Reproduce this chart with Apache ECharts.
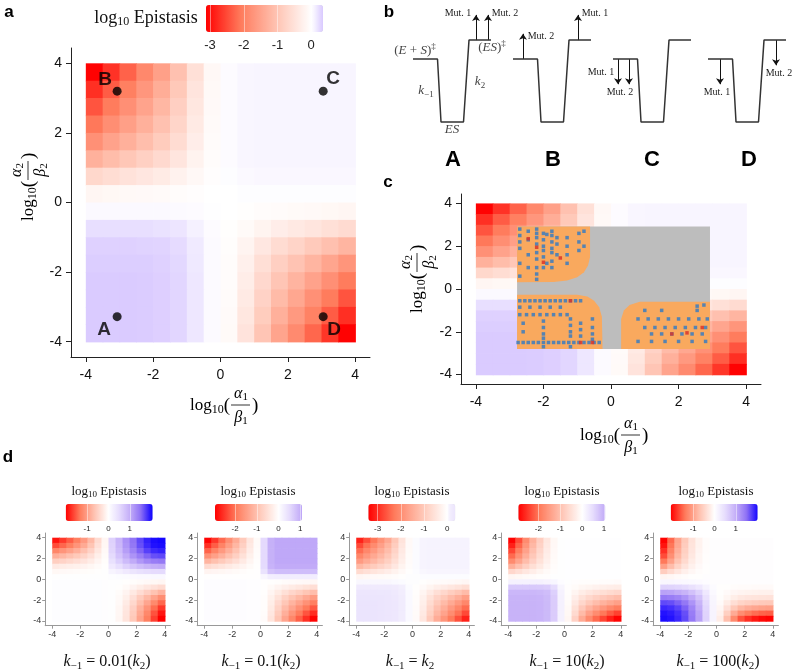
<!DOCTYPE html>
<html>
<head>
<meta charset="utf-8">
<script src="https://cdn.jsdelivr.net/npm/echarts@6/dist/echarts.min.js"></script>
<style>
  html, body { margin: 0; padding: 0; background: #fff; }
  #chart { width: 793px; height: 672px; }
</style>
</head>
<body>
<div id="chart"></div>
<script>
// cell centres of the epistasis grids, rows go from top (y = 3.75) to bottom
const xCenters = [-3.75, -3.25, -2.75, -2.25, -1.75, -1.25, -0.75, -0.25, 0.25, 0.75, 1.25, 1.75, 2.25, 2.75, 3.25, 3.75];
const yCenters = [3.75, 3.25, 2.75, 2.25, 1.75, 1.25, 0.75, 0.25, -0.25, -0.75, -1.25, -1.75, -2.25, -2.75, -3.25, -3.75];
const axisTicks = [-4, -2, 0, 2, 4];

// log10 epistasis, panel a (also background of c)
const epiMain = [
  [-3.1, -2.7, -2.3, -1.9, -1.55, -1.05, -0.53, -0.12, 0.03, 0.07, 0.08, 0.08, 0.08, 0.08, 0.08, 0.08],
  [-2.73, -2.35, -2.02, -1.69, -1.36, -0.93, -0.46, -0.11, 0.03, 0.07, 0.08, 0.08, 0.08, 0.08, 0.08, 0.08],
  [-2.42, -2.08, -1.79, -1.5, -1.21, -0.82, -0.41, -0.1, 0.03, 0.07, 0.08, 0.08, 0.08, 0.08, 0.08, 0.08],
  [-2.11, -1.81, -1.56, -1.31, -1.05, -0.72, -0.36, -0.08, 0.03, 0.07, 0.08, 0.08, 0.08, 0.08, 0.08, 0.08],
  [-1.77, -1.52, -1.31, -1.1, -0.88, -0.6, -0.3, -0.07, 0.03, 0.07, 0.08, 0.08, 0.08, 0.08, 0.08, 0.08],
  [-1.3, -1.12, -0.96, -0.81, -0.65, -0.44, -0.22, -0.05, 0.03, 0.07, 0.08, 0.08, 0.08, 0.08, 0.08, 0.08],
  [-0.68, -0.59, -0.5, -0.42, -0.34, -0.23, -0.12, -0.03, 0.02, 0.05, 0.06, 0.06, 0.06, 0.06, 0.06, 0.06],
  [-0.16, -0.13, -0.11, -0.1, -0.08, -0.05, -0.03, 0, 0, 0.02, 0.02, 0.02, 0.02, 0.02, 0.02, 0.02],
  [0.05, 0.05, 0.05, 0.05, 0.05, 0.04, 0.03, 0.01, 0, -0.02, -0.05, -0.07, -0.09, -0.11, -0.13, -0.16],
  [0.22, 0.22, 0.22, 0.22, 0.2, 0.18, 0.11, 0.03, -0.02, -0.09, -0.2, -0.3, -0.37, -0.45, -0.53, -0.62],
  [0.3, 0.3, 0.3, 0.29, 0.28, 0.24, 0.15, 0.04, -0.04, -0.19, -0.4, -0.6, -0.74, -0.91, -1.07, -1.24],
  [0.32, 0.32, 0.32, 0.32, 0.3, 0.26, 0.16, 0.04, -0.05, -0.26, -0.55, -0.82, -1.02, -1.24, -1.47, -1.71],
  [0.34, 0.34, 0.34, 0.33, 0.31, 0.27, 0.17, 0.04, -0.06, -0.31, -0.66, -1, -1.25, -1.52, -1.79, -2.08],
  [0.34, 0.34, 0.34, 0.33, 0.31, 0.27, 0.17, 0.04, -0.07, -0.36, -0.77, -1.16, -1.45, -1.77, -2.08, -2.42],
  [0.34, 0.34, 0.34, 0.33, 0.31, 0.27, 0.17, 0.04, -0.08, -0.41, -0.87, -1.31, -1.64, -1.99, -2.35, -2.73],
  [0.34, 0.34, 0.34, 0.33, 0.31, 0.27, 0.17, 0.04, -0.09, -0.47, -0.99, -1.49, -1.86, -2.26, -2.67, -3.1]
];

// k-1 = 0.01(k2)
const epiD1 = [
  [-1.9, -1.7, -1.5, -1.3, -1.05, -0.75, -0.4, -0.1, 0.62, 0.92, 1.23, 1.48, 1.7, 1.89, 2, 2.05],
  [-1.6, -1.45, -1.3, -1.1, -0.9, -0.64, -0.34, -0.09, 0.6, 0.9, 1.2, 1.45, 1.67, 1.85, 1.97, 2],
  [-1.24, -1.1, -0.98, -0.85, -0.68, -0.49, -0.26, -0.07, 0.57, 0.85, 1.13, 1.36, 1.57, 1.74, 1.85, 1.89],
  [-0.86, -0.77, -0.68, -0.59, -0.47, -0.34, -0.18, -0.05, 0.51, 0.77, 1.02, 1.22, 1.41, 1.56, 1.67, 1.7],
  [-0.53, -0.48, -0.42, -0.36, -0.29, -0.21, -0.11, -0.03, 0.43, 0.65, 0.86, 1.03, 1.19, 1.32, 1.41, 1.44],
  [-0.23, -0.2, -0.18, -0.16, -0.13, -0.09, -0.05, -0.01, 0.31, 0.46, 0.62, 0.74, 0.85, 0.94, 1, 1.03],
  [-0.08, -0.07, -0.06, -0.05, -0.04, -0.03, -0.02, 0, 0.15, 0.23, 0.31, 0.37, 0.43, 0.47, 0.5, 0.51],
  [0, 0, 0, 0, 0, 0, 0, 0, 0.03, 0.05, 0.06, 0.07, 0.09, 0.09, 0.1, 0.1],
  [0.03, 0.03, 0.03, 0.03, 0.03, 0.03, 0.03, 0.02, 0, 0, -0.02, -0.03, -0.05, -0.07, -0.08, -0.1],
  [0.03, 0.03, 0.03, 0.03, 0.03, 0.03, 0.03, 0.02, 0, -0.02, -0.06, -0.12, -0.19, -0.26, -0.33, -0.4],
  [0.03, 0.03, 0.03, 0.03, 0.03, 0.03, 0.03, 0.02, 0, -0.04, -0.12, -0.24, -0.38, -0.52, -0.66, -0.8],
  [0.03, 0.03, 0.03, 0.03, 0.03, 0.03, 0.03, 0.02, 0, -0.06, -0.17, -0.35, -0.56, -0.75, -0.96, -1.16],
  [0.03, 0.03, 0.03, 0.03, 0.03, 0.03, 0.03, 0.02, 0, -0.07, -0.22, -0.43, -0.69, -0.94, -1.2, -1.44],
  [0.03, 0.03, 0.03, 0.03, 0.03, 0.03, 0.03, 0.02, 0, -0.09, -0.26, -0.51, -0.82, -1.1, -1.41, -1.7],
  [0.03, 0.03, 0.03, 0.03, 0.03, 0.03, 0.03, 0.02, 0, -0.09, -0.28, -0.56, -0.9, -1.22, -1.56, -1.88],
  [0.03, 0.03, 0.03, 0.03, 0.03, 0.03, 0.03, 0.02, 0, -0.1, -0.3, -0.6, -0.96, -1.3, -1.66, -2]
];

// k-1 = 0.1(k2)
const epiD2 = [
  [-2.9, -2.5, -2.1, -1.7, -1.3, -0.85, -0.4, -0.08, 0.52, 0.97, 1.05, 1.05, 1.05, 1.05, 1.05, 1.05],
  [-2.55, -2.2, -1.85, -1.5, -1.14, -0.75, -0.35, -0.07, 0.52, 0.97, 1.05, 1.05, 1.05, 1.05, 1.05, 1.05],
  [-2.15, -1.85, -1.55, -1.26, -0.96, -0.63, -0.3, -0.06, 0.52, 0.97, 1.05, 1.05, 1.05, 1.05, 1.05, 1.05],
  [-1.68, -1.45, -1.22, -0.99, -0.75, -0.49, -0.23, -0.05, 0.52, 0.97, 1.05, 1.05, 1.05, 1.05, 1.05, 1.05],
  [-1.16, -1, -0.84, -0.68, -0.52, -0.34, -0.16, -0.03, 0.52, 0.97, 1.05, 1.05, 1.05, 1.05, 1.05, 1.05],
  [-0.58, -0.5, -0.42, -0.34, -0.26, -0.17, -0.08, -0.02, 0.51, 0.94, 1.02, 1.02, 1.02, 1.02, 1.02, 1.02],
  [-0.17, -0.15, -0.13, -0.1, -0.08, -0.05, -0.02, 0, 0.42, 0.77, 0.84, 0.84, 0.84, 0.84, 0.84, 0.84],
  [0, 0, 0, 0, 0, 0, 0, 0, 0.13, 0.24, 0.26, 0.26, 0.26, 0.26, 0.26, 0.26],
  [0.04, 0.04, 0.04, 0.04, 0.04, 0.04, 0.03, 0.02, 0, -0.02, -0.04, -0.06, -0.07, -0.09, -0.1, -0.12],
  [0.04, 0.04, 0.04, 0.04, 0.04, 0.04, 0.03, 0.02, -0.01, -0.08, -0.17, -0.25, -0.32, -0.39, -0.46, -0.52],
  [0.04, 0.04, 0.04, 0.04, 0.04, 0.04, 0.03, 0.02, -0.02, -0.16, -0.33, -0.5, -0.65, -0.78, -0.92, -1.04],
  [0.04, 0.04, 0.04, 0.04, 0.04, 0.04, 0.03, 0.02, -0.03, -0.23, -0.48, -0.72, -0.94, -1.13, -1.33, -1.51],
  [0.04, 0.04, 0.04, 0.04, 0.04, 0.04, 0.03, 0.02, -0.04, -0.28, -0.6, -0.9, -1.17, -1.41, -1.66, -1.89],
  [0.04, 0.04, 0.04, 0.04, 0.04, 0.04, 0.03, 0.02, -0.04, -0.33, -0.71, -1.07, -1.38, -1.67, -1.96, -2.23],
  [0.04, 0.04, 0.04, 0.04, 0.04, 0.04, 0.03, 0.02, -0.05, -0.39, -0.83, -1.24, -1.6, -1.94, -2.27, -2.58],
  [0.04, 0.04, 0.04, 0.04, 0.04, 0.04, 0.03, 0.02, -0.06, -0.44, -0.93, -1.39, -1.8, -2.18, -2.55, -2.9]
];

// k-1 = 10(k2)
const epiD4 = [
  [-2.9, -2.32, -1.74, -1.22, -0.78, -0.38, -0.12, 0, 0.02, 0.02, 0.02, 0.02, 0.02, 0.02, 0.02, 0.02],
  [-2.67, -2.13, -1.6, -1.12, -0.72, -0.35, -0.11, 0, 0.02, 0.02, 0.02, 0.02, 0.02, 0.02, 0.02, 0.02],
  [-2.38, -1.9, -1.43, -1, -0.64, -0.31, -0.1, 0, 0.02, 0.02, 0.02, 0.02, 0.02, 0.02, 0.02, 0.02],
  [-2.09, -1.67, -1.25, -0.88, -0.56, -0.27, -0.09, 0, 0.02, 0.02, 0.02, 0.02, 0.02, 0.02, 0.02, 0.02],
  [-1.74, -1.39, -1.04, -0.73, -0.47, -0.23, -0.07, 0, 0.02, 0.02, 0.02, 0.02, 0.02, 0.02, 0.02, 0.02],
  [-1.25, -1, -0.75, -0.52, -0.34, -0.16, -0.05, 0, 0.02, 0.02, 0.02, 0.02, 0.02, 0.02, 0.02, 0.02],
  [-0.64, -0.51, -0.38, -0.27, -0.17, -0.08, -0.03, 0, 0.02, 0.02, 0.02, 0.02, 0.02, 0.02, 0.02, 0.02],
  [-0.15, -0.12, -0.09, -0.06, -0.04, -0.02, 0, 0, 0.01, 0.01, 0.01, 0.01, 0.01, 0.01, 0.01, 0.01],
  [0.19, 0.19, 0.19, 0.19, 0.19, 0.17, 0.13, 0.04, 0, -0.01, -0.03, -0.03, -0.04, -0.05, -0.05, -0.06],
  [0.71, 0.71, 0.71, 0.71, 0.7, 0.66, 0.5, 0.14, -0.01, -0.07, -0.13, -0.17, -0.21, -0.24, -0.27, -0.29],
  [0.9, 0.9, 0.9, 0.9, 0.88, 0.83, 0.63, 0.18, -0.03, -0.16, -0.29, -0.38, -0.46, -0.52, -0.59, -0.64],
  [0.95, 0.95, 0.95, 0.95, 0.93, 0.87, 0.67, 0.19, -0.05, -0.26, -0.47, -0.63, -0.75, -0.86, -0.96, -1.04],
  [0.95, 0.95, 0.95, 0.95, 0.93, 0.87, 0.67, 0.19, -0.07, -0.36, -0.65, -0.87, -1.04, -1.19, -1.33, -1.45],
  [0.95, 0.95, 0.95, 0.95, 0.93, 0.87, 0.67, 0.19, -0.1, -0.48, -0.86, -1.15, -1.38, -1.57, -1.76, -1.91],
  [0.95, 0.95, 0.95, 0.95, 0.93, 0.87, 0.67, 0.19, -0.12, -0.6, -1.08, -1.44, -1.73, -1.97, -2.21, -2.41],
  [0.95, 0.95, 0.95, 0.95, 0.93, 0.87, 0.67, 0.19, -0.15, -0.73, -1.31, -1.74, -2.09, -2.38, -2.67, -2.9]
];

// k-1 = 100(k2)
const epiD5 = [
  [-2.05, -1.48, -0.98, -0.62, -0.33, -0.14, -0.04, 0, 0.01, 0.01, 0.01, 0.01, 0.01, 0.01, 0.01, 0.01],
  [-1.95, -1.4, -0.94, -0.58, -0.31, -0.14, -0.04, 0, 0.01, 0.01, 0.01, 0.01, 0.01, 0.01, 0.01, 0.01],
  [-1.8, -1.3, -0.87, -0.54, -0.29, -0.13, -0.04, 0, 0.01, 0.01, 0.01, 0.01, 0.01, 0.01, 0.01, 0.01],
  [-1.64, -1.18, -0.79, -0.49, -0.26, -0.11, -0.03, 0, 0.01, 0.01, 0.01, 0.01, 0.01, 0.01, 0.01, 0.01],
  [-1.39, -1, -0.67, -0.42, -0.22, -0.1, -0.03, 0, 0.01, 0.01, 0.01, 0.01, 0.01, 0.01, 0.01, 0.01],
  [-1.03, -0.74, -0.49, -0.31, -0.16, -0.07, -0.02, 0, 0.01, 0.01, 0.01, 0.01, 0.01, 0.01, 0.01, 0.01],
  [-0.57, -0.41, -0.28, -0.17, -0.09, -0.04, -0.01, 0, 0.01, 0.01, 0.01, 0.01, 0.01, 0.01, 0.01, 0.01],
  [-0.12, -0.09, -0.06, -0.04, -0.02, -0.01, 0, 0, 0, 0, 0, 0, 0, 0, 0, 0],
  [0.12, 0.12, 0.11, 0.1, 0.09, 0.07, 0.04, 0.01, 0, 0, 0, 0, 0, 0, 0, 0],
  [0.6, 0.59, 0.56, 0.51, 0.43, 0.33, 0.18, 0.05, -0.01, -0.02, -0.04, -0.05, -0.05, -0.06, -0.06, -0.06],
  [1.1, 1.08, 1.02, 0.94, 0.79, 0.61, 0.33, 0.09, -0.02, -0.06, -0.1, -0.13, -0.14, -0.15, -0.16, -0.16],
  [1.44, 1.41, 1.34, 1.22, 1.04, 0.79, 0.43, 0.12, -0.03, -0.11, -0.2, -0.26, -0.29, -0.31, -0.32, -0.33],
  [1.7, 1.67, 1.58, 1.45, 1.22, 0.94, 0.51, 0.14, -0.06, -0.22, -0.37, -0.48, -0.54, -0.58, -0.6, -0.62],
  [1.86, 1.82, 1.73, 1.58, 1.34, 1.02, 0.56, 0.15, -0.1, -0.36, -0.62, -0.8, -0.9, -0.96, -1, -1.03],
  [1.96, 1.92, 1.82, 1.67, 1.41, 1.08, 0.59, 0.16, -0.15, -0.54, -0.92, -1.2, -1.35, -1.45, -1.51, -1.54],
  [2, 1.96, 1.86, 1.7, 1.44, 1.1, 0.6, 0.16, -0.21, -0.72, -1.23, -1.6, -1.8, -1.93, -2.01, -2.05]
];

// colour bar ranges and their tick labels
const mainRange = [-3.12, 0.35];
const mainBarTicks = [-3, -2, -1, 0];
const dRanges = [[-2.0, 2.07], [-2.93, 1.08], [-3.4, 0.35], [-2.92, 1.06], [-2.06, 2.03]];
const dBarTicks = [[-1, 0, 1], [-2, -1, 0, 1], [-3, -2, -1, 0], [-2, -1, 0, 1], [-1, 0, 1]];

// the four marked points of panel a
const pointNames = ['B', 'C', 'A', 'D'];
const pointX = [-3.07, 3.05, -3.07, 3.05];
const pointY = [3.2, 3.2, -3.28, -3.28];

// panel c overlay
const greyBox = [[-2.78, -2.8], [2.93, 2.92]];
const orangeShapes = [
  [[-2.78, 2.92], [-0.62, 2.92], [-0.62, 1.5], [-0.68, 1.1], [-0.8, 0.78], [-1.0, 0.55], [-1.3, 0.4], [-1.7, 0.33], [-2.78, 0.32]],
  [[-2.78, -0.27], [-1.0, -0.27], [-0.7, -0.35], [-0.5, -0.55], [-0.35, -0.85], [-0.27, -1.3], [-0.25, -2.8], [-2.78, -2.8]],
  [[0.3, -2.8], [0.3, -1.4], [0.38, -1.0], [0.55, -0.75], [0.85, -0.6], [2.93, -0.6], [2.93, -2.8]]
];
const blueCols = [
  [-2.7, [2.8, 2.5, 2.2, 1.9, 1.2, 0.6]],
  [-2.45, [2.7, 2.3, 1.6, 1.0]],
  [-2.2, [2.8, 2.6, 2.4, 2.1, 1.7, 1.4, 1.0, 0.7, 0.45]],
  [-2.0, [2.6, 2.3, 2.0, 1.8, 1.5, 1.0]],
  [-1.9, [2.55, 1.2]],
  [-1.75, [2.7, 2.5, 2.2, 1.9, 1.7, 1.3, 1.0]],
  [-1.6, [2.4, 2.1, 1.6]],
  [-1.3, [2.4, 2.0, 1.6, 1.2]],
  [-0.95, [2.6, 2.2, 1.8]],
  [-0.8, [2.7, 2.0]],
  [-2.6, [-1.6, -2.0]],
  [-2.0, [-1.5, -1.8, -2.1, -2.3, -2.7]],
  [-1.2, [-1.4, -1.7, -2.0, -2.2, -2.7]],
  [-0.9, [-1.6, -1.9, -2.2]],
  [-0.55, [-1.4, -1.8, -2.1, -2.35]],
  [2.55, [-0.8, -1.0]],
  [2.75, [-0.75]]
];
const blueRows = [
  [-0.55, [-2.7, -2.55, -2.4, -2.25, -2.1, -1.95, -1.8, -1.65, -1.5, -1.35, -1.2, -1.05, -0.9]],
  [-0.85, [-2.7, -2.4, -2.1, -1.8, -1.5]],
  [-1.2, [-2.7, -2.5, -2.3, -2.1, -1.9, -1.7, -1.5, -1.3]],
  [-2.5, [-2.75, -2.6, -2.45, -2.3, -2.15, -2.0, -1.85, -1.7, -1.55, -1.4, -1.25, -1.1, -0.95, -0.8, -0.65, -0.5, -0.35]],
  [-1.0, [1.0, 1.5]],
  [-1.4, [0.8, 1.1, 1.4, 1.7, 2.0, 2.3, 2.6, 2.85]],
  [-1.8, [1.0, 1.3, 1.6, 1.9, 2.2, 2.5, 2.8]],
  [-2.1, [1.2, 1.5, 1.8, 2.1, 2.4, 2.7]],
  [-2.45, [0.8, 1.2, 1.6, 2.0, 2.4, 2.8]]
];
const redPoints = [[-2.2, 1.95], [-2.0, 1.25], [-1.5, 1.45], [-2.45, 2.35], [-0.9, -2.5], [-0.55, -2.5], [-1.2, -0.55], [1.8, -2.1], [2.25, -2.05], [2.7, -1.8]];

// panel b energy diagrams
const profileX = [0, 2.45, 2.8, 5.05, 5.6, 7.8];
const profileE = [3.0, 3.0, 0, 0, 3.9, 3.9];
const diagramStart = [2.0, 12.0, 22.0, 31.5];
const arrowX = [8.3, 9.5, 13.0, 18.5, 22.5, 23.6, 32.7, 38.3];
const arrowFrom = [3.9, 3.9, 3.0, 3.9, 3.0, 3.0, 3.0, 3.9];
const arrowTo = [5.1, 5.1, 4.2, 5.1, 1.8, 1.8, 1.8, 2.7];

// colour map
const negStops = [[0, '#ffffff'], [0.33, '#ffc3b2'], [0.67, '#ff7b5c'], [1, '#ff0000']];
const posStops = [[0, '#ffffff'], [0.5, '#e6dcfd'], [1, '#c4aef8'], [1.5, '#8f72f5'], [2, '#1a0aff'], [2.2, '#0000ff']];
const posStopsMain = [[0, '#ffffff'], [0.1, '#f6f3ff'], [0.36, '#d8c7ff']];
const posStopsD3 = [[0, '#ffffff'], [0.1, '#f3effd'], [0.36, '#ebe4fd']];

const SERIF = '"Liberation Serif", "DejaVu Serif", serif';
const SANS = '"Liberation Sans", Arial, sans-serif';

function hexRgb(h) { return [1, 3, 5].map(i => parseInt(h.substr(i, 2), 16)); }
function pick(stops, t) {
  if (t <= stops[0][0]) return stops[0][1];
  for (let k = 1; k < stops.length; k++) {
    if (t <= stops[k][0]) {
      const f = (t - stops[k - 1][0]) / (stops[k][0] - stops[k - 1][0]);
      const a = hexRgb(stops[k - 1][1]), b = hexRgb(stops[k][1]);
      return 'rgb(' + a.map((c, i) => Math.round(c + (b[i] - c) * f)).join(',') + ')';
    }
  }
  return stops[stops.length - 1][1];
}
function ramp(min, max, pos) {
  const out = [];
  for (let k = 0; k <= 80; k++) {
    const v = min + (max - min) * k / 80;
    out.push(v < 0 ? pick(negStops, v / min) : pick(pos, v));
  }
  return out;
}

function heatSeries(field, idx) {
  const data = [];
  field.forEach((row, i) => row.forEach((v, j) => data.push([xCenters[j], yCenters[i], v])));
  return {
    type: 'custom', xAxisIndex: idx, yAxisIndex: idx, data: data,
    encode: { x: 0, y: 1 }, silent: true,
    renderItem: function (params, api) {
      const p0 = api.coord([api.value(0) - 0.25, api.value(1) + 0.25]);
      const p1 = api.coord([api.value(0) + 0.25, api.value(1) - 0.25]);
      return { type: 'rect', shape: { x: p0[0], y: p0[1], width: p1[0] - p0[0] + 0.7, height: p1[1] - p0[1] + 0.7 }, style: { fill: api.visual('color') } };
    }
  };
}

// ---- grids ----
const grids = [
  { left: 71, top: 48, width: 299, height: 309 },      // a
  { left: 461, top: 194, width: 300, height: 190 },    // c
  { left: 393, top: 6.5, width: 400, height: 126 }     // b
];
const dCenters = [108.5, 260.5, 412.5, 564.5, 716.5];
dCenters.forEach(c => grids.push({ left: c - 4.5 * 14.07, top: 533, width: 8.9 * 14.07, height: 92.7 }));
const barLefts = [65.7, 215, 368.3, 518.3, 670.7];
grids.push({ left: 206, top: 5, width: 117, height: 27 });
barLefts.forEach(l => grids.push({ left: l, top: 504, width: 87, height: 17 }));

function bigAxis(idx, dim) {
  return {
    gridIndex: idx, type: 'value', min: -4.44, max: 4.44,
    axisLine: { onZero: false, lineStyle: { color: '#222' } },
    axisTick: { customValues: axisTicks, length: 5, lineStyle: { color: '#222' } },
    axisLabel: { customValues: axisTicks, fontSize: 14, color: '#111', fontFamily: SANS, margin: dim === 'x' ? 11 : 9 },
    splitLine: { show: false }
  };
}
function smallAxis(idx, dim) {
  return {
    gridIndex: idx, type: 'value',
    min: dim === 'x' ? -4.5 : -4.45, max: dim === 'x' ? 4.4 : 4.45,
    axisLine: { onZero: false, lineStyle: { color: '#999' } },
    axisTick: { customValues: axisTicks, length: 3, lineStyle: { color: '#999' } },
    axisLabel: { customValues: axisTicks, fontSize: 9, color: '#333', fontFamily: SANS, margin: 4 },
    splitLine: { show: false }
  };
}
function barAxis(idx, range, ticks, size, h) {
  return {
    gridIndex: idx, type: 'value', min: range[0], max: range[1], z: 10,
    axisLine: { show: false },
    axisTick: { customValues: ticks, inside: true, length: h, lineStyle: { color: 'rgba(255,255,255,0.45)' } },
    axisLabel: { customValues: ticks, fontSize: size, color: '#222', fontFamily: SANS, margin: size === 13 ? 7 : 4 },
    splitLine: { show: false }
  };
}

const xAxes = [bigAxis(0, 'x'), bigAxis(1, 'x'), { gridIndex: 2, type: 'value', min: 0, max: 40, show: false }];
const yAxes = [bigAxis(0, 'y'), bigAxis(1, 'y'), { gridIndex: 2, type: 'value', min: -0.5, max: 5.5, show: false }];
for (let k = 0; k < 5; k++) { xAxes.push(smallAxis(3 + k, 'x')); yAxes.push(smallAxis(3 + k, 'y')); }
xAxes.push(barAxis(8, mainRange, mainBarTicks, 13, 27));
yAxes.push({ gridIndex: 8, show: false });
for (let k = 0; k < 5; k++) {
  xAxes.push(barAxis(9 + k, dRanges[k], dBarTicks[k], 8, 17));
  yAxes.push({ gridIndex: 9 + k, show: false });
}

// ---- series ----
const dFields = [epiD1, epiD2, epiMain, epiD4, epiD5];
const series = [heatSeries(epiMain, 0), heatSeries(epiMain, 1)];
dFields.forEach((f, k) => series.push(heatSeries(f, 3 + k)));

const labelPos = { B: [-7.5, -6.5], C: [14.5, -7.5], A: [-8.5, 17.5], D: [15.5, 17.5] };
series.push({
  type: 'scatter', xAxisIndex: 0, yAxisIndex: 0, symbolSize: 9, silent: true,
  itemStyle: { color: '#000' },
  data: pointNames.map((n, i) => ({
    name: n, value: [pointX[i], pointY[i]],
    label: { show: true, formatter: n, position: labelPos[n], align: 'center', verticalAlign: 'middle', fontSize: 19, fontWeight: 'bold', color: '#000', fontFamily: SANS }
  }))
});

series.push({
  type: 'custom', xAxisIndex: 1, yAxisIndex: 1, data: [0], silent: true,
  renderItem: function (params, api) {
    const p0 = api.coord([greyBox[0][0], greyBox[1][1]]);
    const p1 = api.coord([greyBox[1][0], greyBox[0][1]]);
    return { type: 'rect', shape: { x: p0[0], y: p0[1], width: p1[0] - p0[0], height: p1[1] - p0[1] }, style: { fill: '#bdbdbd' } };
  }
});
series.push({
  type: 'custom', xAxisIndex: 1, yAxisIndex: 1, data: orangeShapes.map((s, k) => k), silent: true,
  renderItem: function (params, api) {
    return { type: 'polygon', shape: { points: orangeShapes[params.dataIndex].map(p => api.coord(p)) }, style: { fill: '#f9a95e' } };
  }
});
const bluePoints = [];
blueCols.forEach(c => c[1].forEach(y => bluePoints.push([c[0], y])));
blueRows.forEach(r => r[1].forEach(x => bluePoints.push([x, r[0]])));
series.push({
  type: 'scatter', xAxisIndex: 1, yAxisIndex: 1, symbol: 'rect', symbolSize: 3.5, silent: true,
  itemStyle: { color: '#3b7dbf', opacity: 0.85 }, data: bluePoints
});
series.push({
  type: 'scatter', xAxisIndex: 1, yAxisIndex: 1, symbol: 'rect', symbolSize: 3.5, silent: true,
  itemStyle: { color: '#d8352a', opacity: 0.85 }, data: redPoints
});

diagramStart.forEach(s => series.push({
  type: 'line', xAxisIndex: 2, yAxisIndex: 2, symbol: 'none', silent: true,
  lineStyle: { color: '#333', width: 1.5 },
  data: profileX.map((x, k) => [s + x, profileE[k]])
}));
series.push({
  type: 'lines', coordinateSystem: 'cartesian2d', xAxisIndex: 2, yAxisIndex: 2, silent: true,
  symbol: ['none', 'arrow'], symbolSize: 6,
  lineStyle: { color: '#111', width: 1, opacity: 1 },
  data: arrowX.map((x, k) => ({ coords: [[x, arrowFrom[k]], [x, arrowTo[k]]] }))
});

// ---- visual maps (colour bars) ----
const visualMap = [
  { type: 'continuous', seriesIndex: 0, dimension: 2, min: mainRange[0], max: mainRange[1], orient: 'horizontal',
    left: 206, top: 5, itemWidth: 27, itemHeight: 117, padding: 0, text: null, calculable: false, hoverLink: false,
    inRange: { color: ramp(mainRange[0], mainRange[1], posStopsMain) } },
  { type: 'continuous', seriesIndex: 1, dimension: 2, min: mainRange[0], max: mainRange[1], show: false,
    inRange: { color: ramp(mainRange[0], mainRange[1], posStopsMain) } }
];
dRanges.forEach((r, k) => visualMap.push({
  type: 'continuous', seriesIndex: 2 + k, dimension: 2, min: r[0], max: r[1], orient: 'horizontal',
  left: barLefts[k], top: 504, itemWidth: 17, itemHeight: 87, padding: 0, text: null, calculable: false, hoverLink: false,
  inRange: { color: ramp(r[0], r[1], k === 2 ? posStopsD3 : posStops) }
}));

// ---- text ----
function fracTitle(cx, cy, num, den, rot) {
  const rich = {
    l: { fontSize: 17, fontFamily: SERIF, fill: '#000' },
    s: { fontSize: 12, fontFamily: SERIF, fill: '#000', padding: [8, 0, 0, 0] },
    p: { fontSize: 19, fontFamily: SERIF, fill: '#000' },
    g: { fontSize: 16, fontFamily: SERIF, fontStyle: 'italic', fill: '#000' },
    gs: { fontSize: 11, fontFamily: SERIF, fill: '#000', padding: [7, 0, 0, 0] }
  };
  return {
    type: 'group', x: cx, y: cy, rotation: rot, silent: true,
    children: [
      { type: 'text', x: -11, y: 1, style: { text: '{l|log}{s|10}{p|(}', rich: rich, align: 'right', verticalAlign: 'middle' } },
      { type: 'text', x: 0, y: -11, style: { text: '{g|' + num[0] + '}{gs|' + num[1] + '}', rich: rich, align: 'center', verticalAlign: 'middle' } },
      { type: 'line', shape: { x1: -10, y1: 0, x2: 9, y2: 0 }, style: { stroke: '#000', lineWidth: 0.8 } },
      { type: 'text', x: 0, y: 13, style: { text: '{g|' + den[0] + '}{gs|' + den[1] + '}', rich: rich, align: 'center', verticalAlign: 'middle' } },
      { type: 'text', x: 11, y: 1, style: { text: '{p|)}', rich: rich, align: 'left', verticalAlign: 'middle' } }
    ]
  };
}
function epiTitle(cx, cy, big) {
  return {
    type: 'text', x: cx, y: cy, silent: true,
    style: {
      text: '{l|log}{s|10}{l| Epistasis}', align: 'center', verticalAlign: 'middle',
      rich: {
        l: { fontSize: big ? 18 : 13, fontFamily: SERIF, fill: '#111' },
        s: { fontSize: big ? 12 : 9, fontFamily: SERIF, fill: '#111', padding: [big ? 8 : 6, 0, 0, 0] }
      }
    }
  };
}
function plain(x, y, t, font, color) {
  return { type: 'text', x: x, y: y, silent: true, style: { text: t, font: font, fill: color || '#000', align: 'center', verticalAlign: 'middle' } };
}
const bRich = {
  n: { fontSize: 13, fontFamily: SERIF, fill: '#444' },
  i: { fontSize: 13, fontFamily: SERIF, fontStyle: 'italic', fill: '#444' },
  u: { fontSize: 9, fontFamily: SERIF, fill: '#444', padding: [0, 0, 9, 0] },
  d: { fontSize: 9, fontFamily: SERIF, fill: '#444', padding: [7, 0, 0, 0] }
};
function richText(x, y, t, rich) {
  return { type: 'text', x: x, y: y, silent: true, style: { text: t, rich: rich, align: 'center', verticalAlign: 'middle' } };
}
const capRich = {
  n: { fontSize: 16, fontFamily: SERIF, fill: '#111' },
  i: { fontSize: 16, fontFamily: SERIF, fontStyle: 'italic', fill: '#111' },
  d: { fontSize: 11, fontFamily: SERIF, fill: '#111', padding: [8, 0, 0, 0] }
};
const captions = [
  '{i|k}{d|\u22121}{n| = 0.01(}{i|k}{d|2}{n|)}',
  '{i|k}{d|\u22121}{n| = 0.1(}{i|k}{d|2}{n|)}',
  '{i|k}{d|\u22121}{n| = }{i|k}{d|2}',
  '{i|k}{d|\u22121}{n| = 10(}{i|k}{d|2}{n|)}',
  '{i|k}{d|\u22121}{n| = 100(}{i|k}{d|2}{n|)}'
];
const captionX = [107, 261, 410, 567, 718];
const dTitleX = [109, 258, 412, 562, 716];
const mutLabels = [[458, 13, 'Mut. 1'], [505, 13, 'Mut. 2'], [541, 36, 'Mut. 2'], [595, 13, 'Mut. 1'],
  [601, 72, 'Mut. 1'], [620, 92, 'Mut. 2'], [717, 92, 'Mut. 1'], [779, 73, 'Mut. 2']];

const graphic = [
  plain(9, 12, 'a', 'bold 17px ' + SANS),
  plain(389, 12, 'b', 'bold 17px ' + SANS),
  plain(388, 182, 'c', 'bold 17px ' + SANS),
  plain(8, 457, 'd', 'bold 17px ' + SANS),
  epiTitle(146, 18, true),
  fracTitle(241, 405, ['\u03b1', '1'], ['\u03b2', '1'], 0),
  fracTitle(28, 170, ['\u03b1', '2'], ['\u03b2', '2'], Math.PI / 2),
  fracTitle(631, 435, ['\u03b1', '1'], ['\u03b2', '1'], 0),
  fracTitle(417, 262, ['\u03b1', '2'], ['\u03b2', '2'], Math.PI / 2),
  richText(415, 51, '{n|(}{i|E}{n| + }{i|S}{n|)}{u|\u2021}', bRich),
  richText(492, 48, '{n|(}{i|ES}{n|)}{u|\u2021}', bRich),
  richText(426, 91, '{i|k}{d|\u22121}', bRich),
  richText(480, 82, '{i|k}{d|2}', bRich),
  richText(452, 130, '{i|ES}', bRich)
];
mutLabels.forEach(m => graphic.push(plain(m[0], m[1], m[2], '10px ' + SERIF, '#222')));
['A', 'B', 'C', 'D'].forEach((n, k) => graphic.push(plain([453, 553, 652, 749][k], 160, n, 'bold 22px ' + SANS)));
dTitleX.forEach(x => graphic.push(epiTitle(x, 492, false)));
captions.forEach((c, k) => graphic.push(richText(captionX[k], 662, c, capRich)));

const chart = echarts.init(document.getElementById('chart'));
chart.setOption({
  animation: false,
  backgroundColor: '#fff',
  grid: grids,
  xAxis: xAxes,
  yAxis: yAxes,
  visualMap: visualMap,
  series: series,
  graphic: graphic
});
</script>
</body>
</html>
